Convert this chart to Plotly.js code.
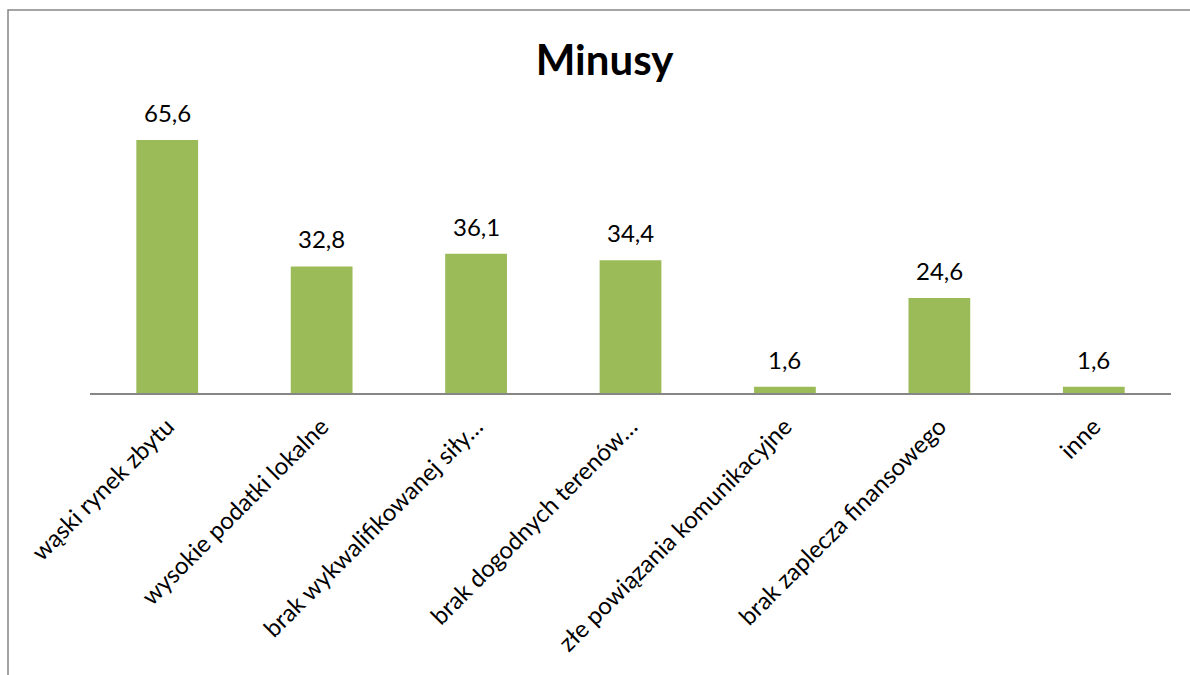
<!DOCTYPE html>
<html>
<head>
<meta charset="utf-8">
<script src="https://cdn.plot.ly/plotly-3.0.1.min.js"></script>
<style>
html,body{margin:0;padding:0;background:#fff;}
#chart{width:1190px;height:675px;}
</style>
</head>
<body>
<div id="chart"></div>
<script>
const categories = [
  "wąski rynek zbytu",
  "wysokie podatki lokalne",
  "brak wykwalifikowanej siły…",
  "brak dogodnych terenów…",
  "złe powiązania komunikacyjne",
  "brak zaplecza finansowego",
  "inne"
];
const values = [65.6, 32.8, 36.1, 34.4, 1.6, 24.6, 1.6];
const chartTitle = "Minusy";

const FONT = "Lato, 'Open Sans', sans-serif";

const trace = {
  type: "bar",
  x: categories,
  y: values,
  marker: {color: "#9BBB59", line: {width: 0}},
  hoverinfo: "x+y"
};

const annotations = categories.map((c, i) => ({
  x: c, y: values[i], xref: "x", yref: "y",
  text: values[i].toFixed(1).replace(".", ","),
  showarrow: false, yanchor: "bottom", yshift: 11,
  font: {family: FONT, size: 24, color: "#000"}
}));

const layout = {
  width: 1190, height: 675,
  margin: {l: 90, r: 19, t: 123, b: 282},
  paper_bgcolor: "#fff", plot_bgcolor: "#fff",
  showlegend: false,
  bargap: 0.6,
  title: {
    text: "<b>" + chartTitle + "</b>",
    x: 0.508, xanchor: "center", y: 0.91, yanchor: "middle",
    font: {family: FONT, size: 42, color: "#000"}
  },
  xaxis: {
    type: "category",
    showline: true, linecolor: "#868686", linewidth: 2,
    showgrid: false, zeroline: false,
    ticks: "outside", ticklen: 8, tickcolor: "rgba(0,0,0,0)",
    tickangle: -45, automargin: false,
    tickfont: {family: FONT, size: 24, color: "#000"}
  },
  yaxis: {
    range: [0, 70], visible: false, showgrid: false, zeroline: false, fixedrange: true
  },
  annotations: annotations,
  shapes: [{
    type: "rect", xref: "paper", yref: "paper",
    x0: (8 - 90) / 1081, x1: 1.2, y0: -2, y1: (393 - 10) / 270,
    line: {color: "#868686", width: 1.5}, fillcolor: "rgba(0,0,0,0)", layer: "below"
  }]
};

Plotly.newPlot("chart", [trace], layout, {displayModeBar: false, staticPlot: true});
</script>
</body>
</html>
